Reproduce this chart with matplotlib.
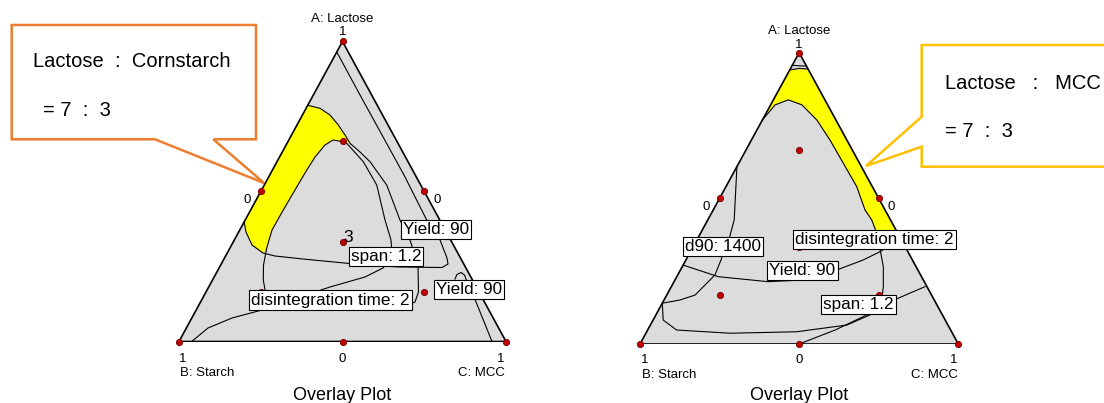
import numpy as np
import matplotlib.pyplot as plt
from matplotlib.patches import Polygon

plt.rcParams['font.family'] = ['Liberation Sans', 'DejaVu Sans']

# mixture design points: A = Lactose, C = MCC (B = Starch = 1 - A - C)
design_a = [1, 0, 0, 0.5, 0.5, 0, 1/3, 2/3, 1/6, 1/6]
design_c = [0, 0, 1, 0, 0.5, 0.5, 1/3, 1/6, 1/6, 2/3]

# ---- left plot contours (A, C fractions) ----
L_span_a = [0.965, 0.8217, 0.6883, 0.555, 0.405, 0.3383, 0.2783, 0.2583, 0.2467, 0.2483, 0.2533, 0.275,
            0.285, 0.295, 0.3217, 0.365, 0.3983]
L_span_c = [0.0, 0.1427, 0.2767, 0.4106, 0.555, 0.6291, 0.6804, 0.6935, 0.681, 0.5517, 0.4574, 0.2417,
            0.1511, 0.1094, 0.0624, 0.0224, 0.0]
L_yield_a = [0.2083, 0.2233, 0.23, 0.2217, 0.2083, 0.1317, 0.0]
L_yield_c = [0.7398, 0.7385, 0.7474, 0.7623, 0.7735, 0.8425, 0.9572]
L_dis_a = [0.7873, 0.7773, 0.755, 0.7217, 0.6883, 0.6607, 0.6317, 0.5993, 0.5217, 0.405, 0.3383, 0.255,
           0.165, 0.1317, 0.1183, 0.1083, 0.105, 0.1083, 0.1217, 0.145, 0.1717, 0.205, 0.255, 0.3117,
           0.3717, 0.425, 0.4883, 0.5617, 0.615, 0.655, 0.6717, 0.6667]
L_dis_c = [0.0, 0.0425, 0.0843, 0.1263, 0.1635, 0.1926, 0.2377, 0.2845, 0.3743, 0.4733, 0.5373, 0.6034,
           0.6499, 0.6559, 0.632, 0.5606, 0.4704, 0.377, 0.2786, 0.2119, 0.1772, 0.1553, 0.1309, 0.1124,
           0.0986, 0.0994, 0.1015, 0.1045, 0.1084, 0.119, 0.1351, 0.1643]
L_other_a = [0.6607, 0.5993, 0.5217, 0.405, 0.3383, 0.305, 0.265, 0.245, 0.215, 0.1817, 0.1483, 0.105,
             0.0783, 0.045, 0.0]
L_other_c = [0.1825, 0.264, 0.3438, 0.4275, 0.4792, 0.498, 0.5066, 0.5014, 0.4613, 0.3709, 0.2959, 0.2013,
             0.1229, 0.0662, 0.0388]
L_region_a = [0.7873, 0.3983, 0.365, 0.3217, 0.295, 0.3117, 0.3717, 0.425, 0.4883, 0.5617, 0.615, 0.655,
              0.6717, 0.6667, 0.6607, 0.6883, 0.7217, 0.755, 0.7773, 0.7873]
L_region_c = [0.0, 0.0, 0.0224, 0.0624, 0.1094, 0.1124, 0.0986, 0.0994, 0.1015, 0.1045, 0.1084, 0.119,
              0.1351, 0.1643, 0.1926, 0.1635, 0.1263, 0.0843, 0.0425, 0.0]

# ---- right plot contours ----
R_top1_a = [0.957, 0.955, 0.954]
R_top1_c = [0.0, 0.022, 0.046]
R_top2_a = [0.941, 0.946, 0.944]
R_top2_c = [0.0, 0.028, 0.056]
R_span_a = [0.769, 0.821, 0.838, 0.821, 0.769, 0.700, 0.620, 0.540, 0.460, 0.426, 0.380, 0.323, 0.265,
            0.197, 0.151, 0.100, 0.065, 0.042, 0.037, 0.048, 0.082, 0.140]
R_span_c = [0.0, 0.014, 0.047, 0.098, 0.171, 0.247, 0.329, 0.411, 0.477, 0.515, 0.554, 0.593, 0.632,
            0.666, 0.684, 0.673, 0.617, 0.471, 0.265, 0.091, 0.032, 0.0]
R_yield_a = [0.271, 0.231, 0.214, 0.220, 0.254, 0.288, 0.317, 0.340, 0.371]
R_yield_c = [0.0, 0.131, 0.295, 0.409, 0.491, 0.556, 0.596, 0.616, 0.629]
R_d90_a = [0.609, 0.512, 0.426, 0.351, 0.237, 0.168, 0.151, 0.140]
R_d90_c = [0.0, 0.044, 0.083, 0.102, 0.117, 0.089, 0.050, 0.0]
R_dis_a = [0.197, 0.145, 0.105, 0.048, 0.0]
R_dis_c = [0.797, 0.713, 0.670, 0.589, 0.500]
R_region_a = [0.941, 0.944, 0.371, 0.340, 0.317, 0.380, 0.426, 0.460, 0.540, 0.620, 0.700, 0.769, 0.821,
              0.838, 0.821, 0.769, 0.941]
R_region_c = [0.0, 0.056, 0.629, 0.616, 0.596, 0.554, 0.515, 0.477, 0.411, 0.329, 0.247, 0.171, 0.098,
              0.047, 0.014, 0.0, 0.0]


def tern(a, c):
    a = np.asarray(a, dtype=float)
    c = np.asarray(c, dtype=float)
    return c + a / 2, a


def draw_ternary(ax, region, lines):
    ax.set_xlim(0, 1)
    ax.set_ylim(0, 1)
    ax.axis('off')
    ax.add_patch(Polygon([(0, 0), (1, 0), (0.5, 1)], closed=True, fc='#dcdcdc', ec='none', zorder=1))
    x, y = tern(*region)
    ax.fill(x, y, color='#ffff00', lw=0, zorder=2)
    for la, lc in lines:
        x, y = tern(la, lc)
        ax.plot(x, y, color='black', lw=0.8, zorder=3)
    ax.add_patch(Polygon([(0, 0), (1, 0), (0.5, 1)], closed=True, fc='none', ec='black', lw=1.2, zorder=4))
    x, y = tern(design_a, design_c)
    ax.plot(x, y, 'o', ms=4.5, mfc='#c00000', mec='#700000', mew=0.6, zorder=5, clip_on=False)


fig = plt.figure(figsize=(11.04, 4.03), dpi=100)
W, H = 1104, 403

axL = fig.add_axes([179 / W, 1 - 341.5 / H, 327 / W, 300 / H])
draw_ternary(axL, (L_region_a, L_region_c),
             [(L_span_a, L_span_c), (L_yield_a, L_yield_c), (L_dis_a, L_dis_c), (L_other_a, L_other_c)])

axR = fig.add_axes([640 / W, 1 - 344 / H, 318.3 / W, 291.3 / H])
draw_ternary(axR, (R_region_a, R_region_c),
             [(R_top1_a, R_top1_c), (R_top2_a, R_top2_c), (R_span_a, R_span_c),
              (R_yield_a, R_yield_c), (R_d90_a, R_d90_c), (R_dis_a, R_dis_c)])

# overlay in pixel coordinates for labels and callouts
ov = fig.add_axes([0, 0, 1, 1])
ov.set_xlim(0, W)
ov.set_ylim(H, 0)
ov.axis('off')

box = dict(boxstyle='square,pad=0.12', fc='white', ec='black', lw=0.8)
small = 9.5


def axis_text(cx, apex_y, base_y, xl, xr, label_y_top, zero_y, zl, zr):
    ov.text(cx, label_y_top, 'A: Lactose', ha='center', va='center', fontsize=small)
    ov.text(cx, apex_y, '1', ha='center', va='center', fontsize=small)
    ov.text(zl, zero_y, '0', ha='center', va='center', fontsize=small)
    ov.text(zr, zero_y, '0', ha='center', va='center', fontsize=small)
    ov.text(xl + 3, base_y, '1', ha='center', va='center', fontsize=small)
    ov.text(cx, base_y, '0', ha='center', va='center', fontsize=small)
    ov.text(xr - 4, base_y, '1', ha='center', va='center', fontsize=small)
    ov.text(xl, base_y + 15, 'B: Starch', ha='left', va='center', fontsize=small)
    ov.text(xr, base_y + 15, 'C: MCC', ha='right', va='center', fontsize=small)
    ov.text(cx, 395, 'Overlay Plot', ha='center', va='center', fontsize=13)


axis_text(342.5, 32, 358.5, 180, 505, 18.5, 200, 247, 437.5)
axis_text(799, 45, 360, 641.5, 958, 31.5, 206.5, 706.5, 891.5)

# contour labels, left
ov.text(348, 237, '3', ha='center', va='center', fontsize=12.5)
ov.text(435.8, 229.7, 'Yield: 90', ha='center', va='center', fontsize=12.3, bbox=box)
ov.text(385.8, 256.7, 'span: 1.2', ha='center', va='center', fontsize=12.3, bbox=box)
ov.text(330.2, 300, 'disintegration time: 2', ha='center', va='center', fontsize=12.3, bbox=box)
ov.text(469.2, 289.2, 'Yield: 90', ha='center', va='center', fontsize=12.3, bbox=box)
# contour labels, right (the design-point "3" sits under the box, as in the source)
ov.text(803, 243, '3', ha='center', va='center', fontsize=12.5)
ov.text(723.3, 246.2, 'd90: 1400', ha='center', va='center', fontsize=12.3, bbox=box)
ov.text(874.7, 239.8, 'disintegration time: 2', ha='center', va='center', fontsize=12.3, bbox=box)
ov.text(802.5, 270.3, 'Yield: 90', ha='center', va='center', fontsize=12.3, bbox=box)
ov.text(858.7, 304.5, 'span: 1.2', ha='center', va='center', fontsize=12.3, bbox=box)

# callouts
ov.add_patch(Polygon([(11.7, 25), (256, 25), (256, 139.3), (213.3, 139.3), (264, 183),
                      (155, 139.3), (11.7, 139.3)], closed=True, fc='white', ec='#ed7d31', lw=1.8, zorder=6))
ov.text(33, 61.5, 'Lactose  :  Cornstarch', ha='left', va='center', fontsize=14.5, zorder=7)
ov.text(43, 110, '= 7  :  3', ha='left', va='center', fontsize=14.5, zorder=7)

ov.add_patch(Polygon([(921.7, 45), (1110, 45), (1110, 166.7), (921.7, 166.7), (921.7, 146.7),
                      (866, 166), (921.7, 116.7)], closed=True, fc='white', ec='#ffc000', lw=1.8, zorder=6,
                     clip_on=False))
ov.text(945, 83.5, 'Lactose   :   MCC', ha='left', va='center', fontsize=14.5, zorder=7)
ov.text(945, 131.5, '= 7  :  3', ha='left', va='center', fontsize=14.5, zorder=7)

fig.savefig('out.png', dpi=100)
